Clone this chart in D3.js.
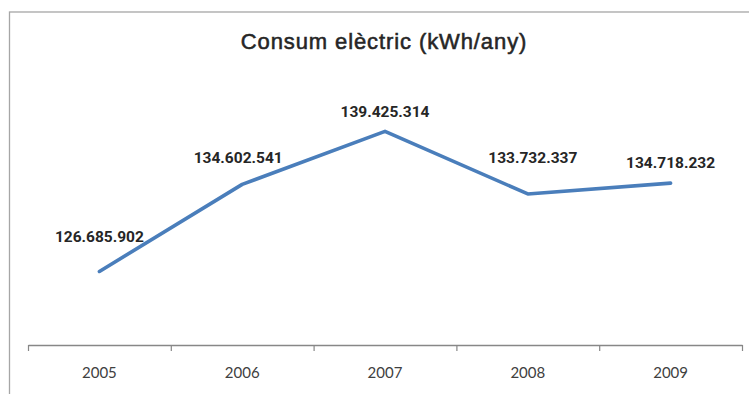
<!DOCTYPE html>
<html><head><meta charset="utf-8">
<script src="https://cdn.jsdelivr.net/npm/d3@7"></script>
<style>
html,body{margin:0;padding:0;background:#fff;}
svg{display:block;}
</style></head>
<body>
<svg id="chart" width="749" height="394"></svg>
<script>
const title = "Consum elèctric (kWh/any)";
const years = ["2005", "2006", "2007", "2008", "2009"];
const consumption = [126685902, 134602541, 139425314, 133732337, 134718232];
const yDomain = [120000000, 145000000];

// label placement offsets (style, not data)
const labelDx = [0, -4, 0, 5, 0];
const labelDy = [-29, -21, -14, -31, -15];

const svg = d3.select("#chart");
const plot = {left: 28, right: 742, top: 70, bottom: 345};

svg.append("rect").attr("x", 9.5).attr("y", 12).attr("width", 800).attr("height", 400)
  .attr("fill", "#fff").attr("stroke", "#a6a6a6").attr("stroke-width", 1.3);

svg.append("text").attr("x", 384).attr("y", 49).attr("text-anchor", "middle")
  .attr("font-family", "Liberation Sans, Arial, sans-serif").attr("font-weight", "normal")
  .attr("font-size", 22).attr("letter-spacing", 0.9)
  .attr("fill", "#262626").attr("stroke", "#262626").attr("stroke-width", 0.55)
  .text(title);

const x = d3.scaleBand().domain(years).range([plot.left, plot.right]).padding(0);
const y = d3.scaleLinear().domain(yDomain).range([plot.bottom, plot.top]);
const xIdx = d3.scaleLinear().domain([0, years.length]).range([plot.left, plot.right]);

// boundary ticks + axis line
const gTicks = svg.append("g").attr("transform", `translate(0,${plot.bottom})`)
  .call(d3.axisBottom(xIdx).tickValues(d3.range(years.length + 1))
    .tickSize(6).tickSizeOuter(0).tickFormat(""));
gTicks.select(".domain").attr("stroke", "#878787").attr("stroke-width", 1.5);
gTicks.selectAll(".tick line").attr("stroke", "#878787").attr("stroke-width", 1.2);

// category labels
const gLab = svg.append("g").attr("transform", `translate(0,${plot.bottom})`)
  .call(d3.axisBottom(x).tickSize(0).tickPadding(0));
gLab.select(".domain").remove();
gLab.selectAll(".tick text").attr("y", 33).attr("dy", 0)
  .attr("font-family", "Lato, sans-serif").attr("font-size", 15).attr("fill", "#404040");

const data = years.map((yr, i) => ({yr, v: consumption[i], i}));
const line = d3.line().x(d => x(d.yr) + x.bandwidth() / 2).y(d => y(d.v));
svg.append("path").datum(data).attr("d", line).attr("fill", "none")
  .attr("stroke", "#4a7ebb").attr("stroke-width", 3.6)
  .attr("stroke-linejoin", "round").attr("stroke-linecap", "round");

const fmt = d3.formatLocale({thousands: ".", decimal: ",", grouping: [3], currency: ["", ""]}).format(",d");
svg.append("g").selectAll("text").data(data).join("text")
  .attr("x", d => x(d.yr) + x.bandwidth() / 2 + labelDx[d.i])
  .attr("y", d => y(d.v) + labelDy[d.i])
  .attr("text-anchor", "middle")
  .attr("font-family", "Roboto, sans-serif").attr("font-weight", "bold")
  .attr("font-size", 15.5).attr("fill", "#262626")
  .text(d => fmt(d.v));
</script>
</body></html>
